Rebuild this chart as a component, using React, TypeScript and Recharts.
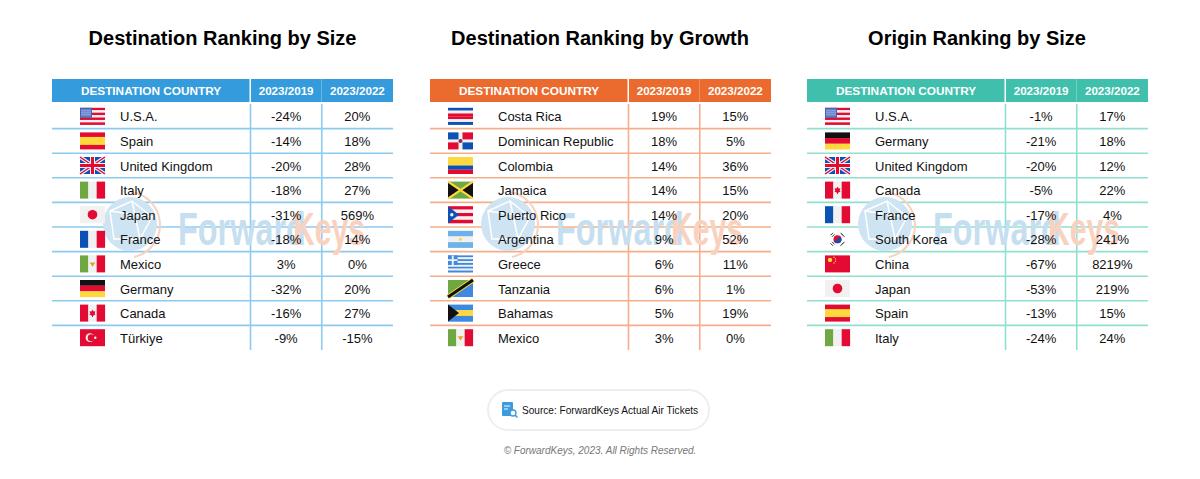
import { ScatterChart, Scatter, XAxis, YAxis, CartesianGrid } from 'recharts'

const periods = ['2023/2019', '2023/2022']

const sizeCountries = ['U.S.A.', 'Spain', 'United Kingdom', 'Italy', 'Japan', 'France', 'Mexico', 'Germany', 'Canada', 'Türkiye']
const sizeVs2019 = [-24, -14, -20, -18, -31, -18, 3, -32, -16, -9]
const sizeVs2022 = [20, 18, 28, 27, 569, 14, 0, 20, 27, -15]

const growthCountries = ['Costa Rica', 'Dominican Republic', 'Colombia', 'Jamaica', 'Puerto Rico', 'Argentina', 'Greece', 'Tanzania', 'Bahamas', 'Mexico']
const growthVs2019 = [19, 18, 14, 14, 14, 9, 6, 6, 5, 3]
const growthVs2022 = [15, 5, 36, 15, 20, 52, 11, 1, 19, 0]

const originCountries = ['U.S.A.', 'Germany', 'United Kingdom', 'Canada', 'France', 'South Korea', 'China', 'Japan', 'Spain', 'Italy']
const originVs2019 = [-1, -21, -20, -5, -17, -28, -67, -53, -13, -24]
const originVs2022 = [17, 18, 12, 22, 4, 241, 8219, 219, 15, 24]

const FONT = '"Liberation Sans", Arial, sans-serif'
const RED = '#e30a33'
const BLUE = '#0b52b4'
const WHITE = '#f1f1f1'
const GREEN = '#6fa843'
const YELLOW = '#ffd83d'
const FW = 25
const FH = 17

function hBands(colors: string[]) {
  const h = FH / colors.length
  return colors.map((c, i) => <rect key={i} x={0} y={i * h} width={FW} height={h + 0.1} fill={c} />)
}

function vBands(colors: string[]) {
  const w = FW / colors.length
  return colors.map((c, i) => <rect key={i} x={i * w} y={0} width={w + 0.1} height={FH} fill={c} />)
}

function UK() {
  return (
    <g>
      <rect width={FW} height={FH} fill={BLUE} />
      <path d="M0 0L25 17M25 0L0 17" stroke={WHITE} strokeWidth={3.6} />
      <path d="M0 0L25 17M25 0L0 17" stroke={RED} strokeWidth={1.5} />
      <path d="M12.5 0V17M0 8.5H25" stroke={WHITE} strokeWidth={5} />
      <path d="M12.5 0V17M0 8.5H25" stroke={RED} strokeWidth={3} />
    </g>
  )
}

function flagFor(name: string) {
  switch (name) {
    case 'U.S.A.':
      return (
        <g>
          {hBands([RED, WHITE, RED, WHITE, RED, WHITE, RED])}
          <rect width={12} height={10} fill="#3e62b9" />
          <path d="M2 1V9M4 1V9M6 1V9M8 1V9M10 1V9M1 3H11M1 5H11M1 7H11" stroke="#b9c6ea" strokeWidth={0.6} />
        </g>
      )
    case 'Spain':
      return (
        <g>
          <rect width={FW} height={FH} fill={RED} />
          <rect y={4.5} width={FW} height={8} fill={YELLOW} />
        </g>
      )
    case 'United Kingdom':
      return <UK />
    case 'Italy':
      return <g>{vBands([GREEN, WHITE, RED])}</g>
    case 'Japan':
      return (
        <g>
          <rect width={FW} height={FH} fill={WHITE} />
          <circle cx={12.5} cy={8.5} r={4.8} fill={RED} />
        </g>
      )
    case 'France':
      return <g>{vBands([BLUE, WHITE, RED])}</g>
    case 'Mexico':
      return (
        <g>
          {vBands([GREEN, WHITE, RED])}
          <path d="M9.6 7H15.4L12.5 11.4Z" fill="#f39a2b" />
        </g>
      )
    case 'Germany':
      return <g>{hBands(['#111111', RED, YELLOW])}</g>
    case 'Canada':
      return (
        <g>
          {vBands([RED, WHITE, RED])}
          <path d="M12.5 5L13.6 7L15.4 6.6L14.7 9.2L15.6 9.8L13 11.2L13 12.4H12V11.2L9.4 9.8L10.3 9.2L9.6 6.6L11.4 7Z" fill={RED} />
        </g>
      )
    case 'Türkiye':
      return (
        <g>
          <rect width={FW} height={FH} fill={RED} />
          <circle cx={10} cy={8.5} r={4.4} fill={WHITE} />
          <circle cx={11.2} cy={8.5} r={3.5} fill={RED} />
          <circle cx={15.3} cy={8.5} r={1.2} fill={WHITE} />
        </g>
      )
    case 'Costa Rica':
      return <g>{hBands([BLUE, WHITE, RED, RED, WHITE, BLUE])}</g>
    case 'Dominican Republic':
      return (
        <g>
          <rect width={FW} height={FH} fill={WHITE} />
          <rect width={10.5} height={7} fill={BLUE} />
          <rect x={14.5} width={10.5} height={7} fill={RED} />
          <rect y={10} width={10.5} height={7} fill={RED} />
          <rect x={14.5} y={10} width={10.5} height={7} fill={BLUE} />
          <circle cx={12.5} cy={8.5} r={2} fill="#7c2a55" />
        </g>
      )
    case 'Colombia':
      return (
        <g>
          <rect width={FW} height={8.5} fill={YELLOW} />
          <rect y={8.5} width={FW} height={4.25} fill={BLUE} />
          <rect y={12.75} width={FW} height={4.25} fill={RED} />
        </g>
      )
    case 'Jamaica':
      return (
        <g>
          <rect width={FW} height={FH} fill={GREEN} />
          <path d="M0 0L12.5 8.5L0 17ZM25 0L12.5 8.5L25 17Z" fill="#111111" />
          <path d="M0 0L25 17M25 0L0 17" stroke={YELLOW} strokeWidth={2.2} />
        </g>
      )
    case 'Puerto Rico':
      return (
        <g>
          {hBands([RED, WHITE, RED, WHITE, RED])}
          <path d="M0 0L11 8.5L0 17Z" fill={BLUE} />
          <circle cx={3.8} cy={8.5} r={1.7} fill={WHITE} />
        </g>
      )
    case 'Argentina':
      return (
        <g>
          {hBands(['#6db2e8', WHITE, '#6db2e8'])}
          <circle cx={12.5} cy={8.5} r={1.6} fill={YELLOW} />
        </g>
      )
    case 'Greece':
      return (
        <g>
          {hBands(['#3f8ae0', WHITE, '#3f8ae0', WHITE, '#3f8ae0', WHITE, '#3f8ae0', WHITE, '#3f8ae0'])}
          <rect width={9.5} height={9.5} fill="#3f8ae0" />
          <path d="M4.75 0V9.5M0 4.75H9.5" stroke={WHITE} strokeWidth={1.9} />
        </g>
      )
    case 'Tanzania':
      return (
        <g>
          <path d="M0 0H25L0 17Z" fill={GREEN} />
          <path d="M25 0V17H0Z" fill="#3f8ae0" />
          <path d="M0 17L25 0" stroke={YELLOW} strokeWidth={5} />
          <path d="M0 17L25 0" stroke="#111111" strokeWidth={3} />
        </g>
      )
    case 'Bahamas':
      return (
        <g>
          {hBands(['#3f8ae0', YELLOW, '#3f8ae0'])}
          <path d="M0 0L11 8.5L0 17Z" fill="#111111" />
        </g>
      )
    case 'South Korea':
      return (
        <g>
          <rect width={FW} height={FH} fill="#ffffff" />
          <circle cx={12.5} cy={8.5} r={4} fill={RED} />
          <path d="M8.5 8.5A4 4 0 0 0 16.5 8.5A2 2 0 0 0 12.5 8.5A2 2 0 0 1 8.5 8.5Z" fill={BLUE} />
          <path d="M5.5 4.5L8 2M7 6L9.5 3.5M15.5 2L18 4.5M17 3.5L19.5 6M5.5 12.5L8 15M7 11L9.5 13.5M15.5 15L18 12.5M17 13.5L19.5 11" stroke="#333333" strokeWidth={1} />
        </g>
      )
    case 'China':
      return (
        <g>
          <rect width={FW} height={FH} fill={RED} />
          <circle cx={5} cy={4.5} r={2.2} fill={YELLOW} />
          <circle cx={9} cy={1.8} r={0.7} fill={YELLOW} />
          <circle cx={10.5} cy={3.6} r={0.7} fill={YELLOW} />
          <circle cx={10.5} cy={5.8} r={0.7} fill={YELLOW} />
          <circle cx={9} cy={7.6} r={0.7} fill={YELLOW} />
        </g>
      )
    default:
      return null
  }
}

const cellRows = (countries: string[], vs2019: number[], vs2022: number[]) =>
  periods.flatMap((period, p) =>
    countries.map((country, i) => ({ period, country, value: (p === 0 ? vs2019 : vs2022)[i] })),
  )

const W = 341
const H = 271
const HEADER_H = 25
const YAXIS_W = 198.5

function RankTable({ left, flagX, header, line, countries, vs2019, vs2022 }: any) {
  const data = cellRows(countries, vs2019, vs2022)
  return (
    <div style={{ position: 'absolute', left, top: 79, width: W, height: H }}>
      <ScatterChart width={W} height={H} margin={{ top: 0, right: 0, bottom: 0, left: 0 }}>
        {/* faded logo sits under the grid */}
        <g>
          <circle cx={78} cy={145} r={27} fill="#cfe4f3" />
          <path d="M79 113A33 33 0 0 1 82 178" fill="none" stroke="#f9d2bf" strokeWidth={2} />
          <path d="M58 132L80 122L100 138L88 160L62 160ZM80 122L88 160M58 132L100 138" fill="none" stroke="#ffffff" strokeWidth={1.5} />
          <text transform="translate(126,166) scale(0.69,1)" fontFamily={FONT} fontWeight={700} fontSize={47} fill="#c5dff0">Forward</text>
          <text transform="translate(241,166) scale(0.64,1)" fontFamily={FONT} fontWeight={700} fontSize={47} fill="#f9d2bf">Keys</text>
        </g>
        <CartesianGrid
          x={0}
          width={W}
          stroke={line}
          strokeWidth={1.6}
          horizontalCoordinatesGenerator={({ offset }: any) =>
            countries.slice(1).map((_: string, i: number) => offset.top + ((i + 1) * offset.height) / countries.length)
          }
          verticalCoordinatesGenerator={({ offset }: any) => [offset.left, offset.left + offset.width / 2]}
        />
        <rect x={0} y={0} width={YAXIS_W - 1} height={23} fill={header} />
        <text x={99} y={15.5} textAnchor="middle" fontFamily={FONT} fontWeight={700} fontSize={11.8} fill="#ffffff">
          DESTINATION COUNTRY
        </text>
        <XAxis
          type="category"
          dataKey="period"
          orientation="top"
          xAxisId={0}
          scale="band"
          allowDuplicatedCategory={false}
          height={HEADER_H}
          axisLine={false}
          tickLine={false}
          interval={0}
          tick={(props: any) => (
            <g>
              <rect x={props.x - 34.8} y={0} width={69.8} height={23} fill={header} />
              <text x={props.x} y={15.5} textAnchor="middle" fontFamily={FONT} fontWeight={700} fontSize={11.6} fill="#ffffff">
                {props.payload.value}
              </text>
            </g>
          )}
        />
        <YAxis
          type="category"
          dataKey="country"
          yAxisId={0}
          scale="band"
          reversed
          allowDuplicatedCategory={false}
          width={YAXIS_W}
          axisLine={false}
          tickLine={false}
          interval={0}
          tick={(props: any) => (
            <g>
              <g transform={`translate(${flagX},${props.y - FH / 2})`}>{flagFor(props.payload.value)}</g>
              <text x={68} y={props.y + 5} fontFamily={FONT} fontSize={13} fill="#111111">
                {props.payload.value}
              </text>
            </g>
          )}
        />
        <Scatter
          data={data}
          isAnimationActive={false}
          shape={(props: any) => (
            <text x={props.cx} y={props.cy + 5} textAnchor="middle" fontFamily={FONT} fontSize={13} fill="#111111">
              {`${props.payload.value}%`}
            </text>
          )}
        />
      </ScatterChart>
    </div>
  )
}

function Title({ cx, children }: any) {
  return (
    <div
      style={{
        position: 'absolute',
        left: cx - 200,
        top: 26,
        width: 400,
        textAlign: 'center',
        fontFamily: FONT,
        fontWeight: 700,
        fontSize: 20,
        lineHeight: '24px',
        color: '#000',
      }}
    >
      {children}
    </div>
  )
}

export default function App() {
  return (
    <div style={{ position: 'absolute', left: 0, top: 0, width: 1200, height: 479, background: '#fff', overflow: 'hidden' }}>
      <Title cx={222.5}>Destination Ranking by Size</Title>
      <Title cx={600}>Destination Ranking by Growth</Title>
      <Title cx={977}>Origin Ranking by Size</Title>

      <RankTable left={52} flagX={28} header="#349cdd" line="#8ccaf0" countries={sizeCountries} vs2019={sizeVs2019} vs2022={sizeVs2022} />
      <RankTable left={430} flagX={18} header="#eb6a2e" line="#f6ae8a" countries={growthCountries} vs2019={growthVs2019} vs2022={growthVs2022} />
      <RankTable left={807} flagX={18} header="#40c0ac" line="#91dfd0" countries={originCountries} vs2019={originVs2019} vs2022={originVs2022} />

      <div
        style={{
          position: 'absolute',
          left: 487,
          top: 389,
          width: 223,
          height: 42,
          boxSizing: 'border-box',
          border: '2px solid #eeeeee',
          borderRadius: 21,
        }}
      />
      <svg style={{ position: 'absolute', left: 501, top: 401 }} width={18} height={18}>
        <rect x={1} y={1} width={11} height={14} rx={1} fill="#3d9be0" />
        <path d="M3 5H9M3 8H7" stroke="#fff" strokeWidth={1} />
        <circle cx={12} cy={12} r={3} fill="#fff" stroke="#3d9be0" strokeWidth={1.4} />
        <path d="M14 14L16.5 16.5" stroke="#3d9be0" strokeWidth={1.5} />
      </svg>
      <div style={{ position: 'absolute', left: 522, top: 403.5, fontFamily: FONT, fontSize: 10.1, lineHeight: '14px', color: '#111', whiteSpace: 'nowrap' }}>
        Source: ForwardKeys Actual Air Tickets
      </div>
      <div style={{ position: 'absolute', left: 400, width: 400, top: 444, textAlign: 'center', fontFamily: FONT, fontStyle: 'italic', fontSize: 10, lineHeight: '14px', color: '#777' }}>
        © ForwardKeys, 2023. All Rights Reserved.
      </div>
    </div>
  )
}
